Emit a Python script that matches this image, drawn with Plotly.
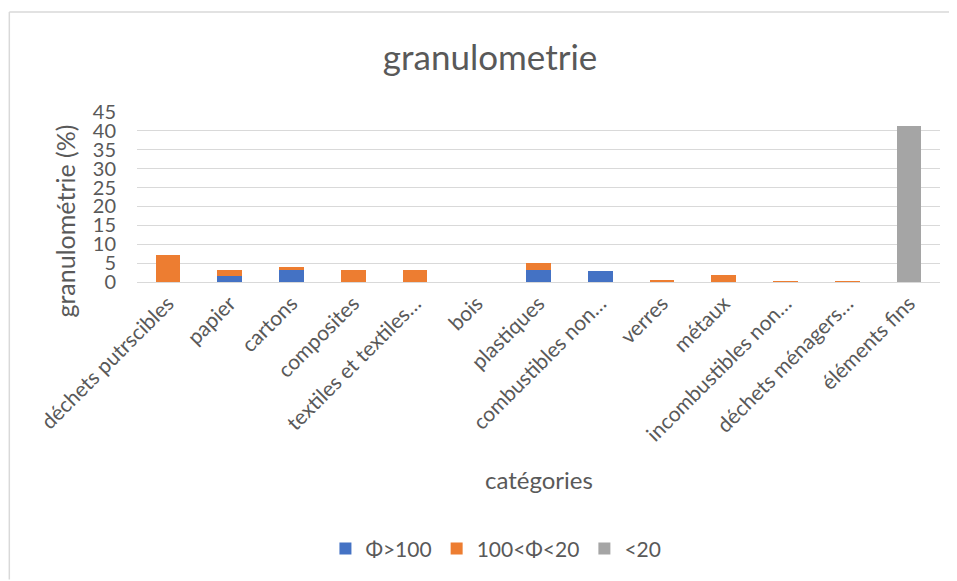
import plotly.graph_objects as go

categories = ["déchets putrscibles", "papier", "cartons", "composites", "textiles et textiles…",
              "bois", "plastiques", "combustibles non…", "verres", "métaux",
              "incombustibles non…", "déchets ménagers…", "éléments fins"]
phi_gt_100 = [0, 1.7, 3.3, 0, 0, 0, 3.2, 3.0, 0, 0, 0, 0, 0]
phi_100_20 = [7.2, 1.5, 0.75, 3.3, 3.3, 0, 1.7, 0, 0.45, 1.75, 0.15, 0.15, 0]
phi_lt_20 = [0, 0, 0, 0, 0, 0, 0, 0, 0, 0, 0, 0, 41.2]
series_names = ["Φ>100", "100<Φ<20", "<20"]
colors = ["#4472C4", "#ED7D31", "#A5A5A5"]

FONT = "Lato, 'Open Sans', sans-serif"
TXT = "#595959"

fig = go.Figure()
for name, vals, col in zip(series_names, [phi_gt_100, phi_100_20, phi_lt_20], colors):
    fig.add_trace(go.Bar(x=categories, y=vals, name=name, marker_color=col,
                         marker_line_width=0))

fig.update_layout(
    barmode="stack",
    bargap=0.6,
    width=949, height=573,
    margin=dict(l=129, r=17, t=104, b=299, autoexpand=False),
    paper_bgcolor="white", plot_bgcolor="white",
    font=dict(family=FONT, color=TXT, size=20),
    title=dict(text="granulometrie", x=0.508, xanchor="center", y=0.913, yanchor="middle",
               font=dict(size=35, color=TXT, family=FONT)),
    legend=dict(orientation="h", x=0.447, xanchor="center", y=-1.57, yanchor="middle",
                font=dict(size=21, color=TXT), traceorder="normal"),
    showlegend=True,
)
fig.update_yaxes(range=[0, 45], dtick=5, showgrid=True, gridcolor="#D9D9D9", gridwidth=1,
                 zeroline=False, showline=False, ticks="", tickfont=dict(size=20, color=TXT),
                 ticklabelstandoff=20, automargin=False)
fig.update_xaxes(tickangle=-45, showline=True, linecolor="#D9D9D9", linewidth=1, ticks="",
                 tickfont=dict(size=21, color=TXT), automargin=False)

fig.add_annotation(text="granulométrie (%)", xref="paper", yref="paper", x=-0.09, y=0.36,
                   textangle=-90, showarrow=False, font=dict(size=25, color=TXT), xanchor="center",
                   yanchor="middle")
fig.add_annotation(text="catégories", xref="paper", yref="paper", x=0.5, y=-1.16,
                   showarrow=False, font=dict(size=24, color=TXT), xanchor="center",
                   yanchor="middle")
# chart-area border: only top and left edges visible, kept inside the figure bounds
fig.add_shape(type="line", xref="paper", yref="paper", x0=-0.159, x1=1.02, y0=1.588, y1=1.588,
              line=dict(color="#D9D9D9", width=1.5), layer="below")
fig.add_shape(type="line", xref="paper", yref="paper", x0=-0.159, x1=-0.159, y0=-1.75, y1=1.588,
              line=dict(color="#D9D9D9", width=1.5), layer="below")

fig.write_html("out.html")
